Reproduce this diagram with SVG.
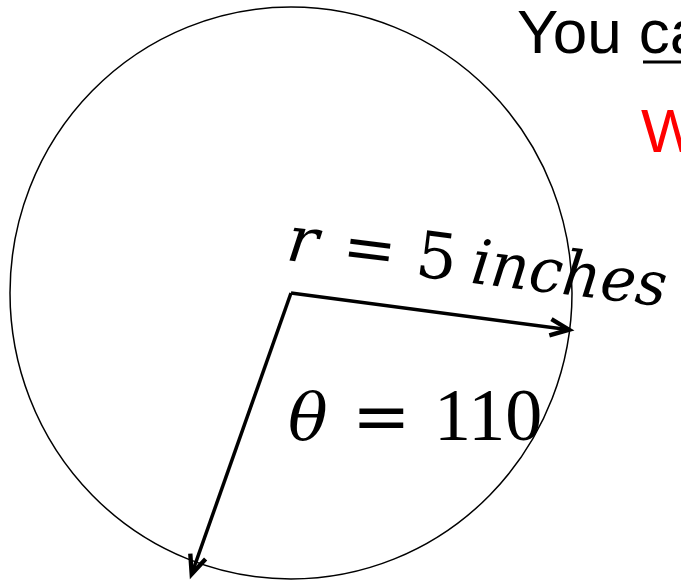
<svg xmlns="http://www.w3.org/2000/svg" width="681" height="581" viewBox="0 0 681 581">
<style>
.sans{font-family:"Liberation Sans",Arial,sans-serif;font-size:62px}
.math{font-family:"DejaVu Serif","Liberation Serif",serif;fill:#000}
.num{font-family:"Liberation Serif","DejaVu Serif",serif;fill:#000}
.arr{stroke:#000;stroke-width:3.5;fill:none}
</style>
<defs>
<marker id="head" markerUnits="userSpaceOnUse" markerWidth="30" markerHeight="30" refX="0" refY="0" viewBox="-20 -12 24 24" orient="auto" overflow="visible">
<path d="M-15,-6.5 L0,0 L-15,6.5" fill="none" stroke="#000" stroke-width="3.5" stroke-linejoin="miter"/>
</marker>
</defs>
<rect width="681" height="581" fill="#fff"/>
<g id="circle">
<ellipse cx="291" cy="293" rx="281" ry="286" fill="none" stroke="#000" stroke-width="1.5"/>
</g>
<g id="connectors">
<line class="arr" x1="291" y1="293" x2="569" y2="329.7" marker-end="url(#head)"/>
<line class="arr" x1="291" y1="293" x2="191.7" y2="574" marker-end="url(#head)"/>
</g>
<g id="radius-label" transform="translate(285,260) rotate(7)">
<text class="math" font-size="64" y="0"><tspan x="0" font-style="italic">r</tspan><tspan x="56">=</tspan><tspan x="130">5</tspan><tspan x="186" font-style="italic" font-size="62" textLength="196" lengthAdjust="spacingAndGlyphs">inches</tspan></text>
</g>
<g id="angle-label">
<text class="num" font-size="74" y="440"><tspan x="288" font-style="italic" font-family="'DejaVu Serif',serif" font-size="66">θ</tspan><tspan x="352" font-family="'DejaVu Serif',serif" font-size="70">=</tspan><tspan x="434">110</tspan></text>
</g>
<g id="top-text">
<text class="sans" x="517" y="53" fill="#000">You ca</text>
<line x1="643" y1="62" x2="681" y2="62" stroke="#000" stroke-width="3"/>
<text class="sans" x="641" y="152" fill="#ff0000">W</text>
</g>
</svg>
